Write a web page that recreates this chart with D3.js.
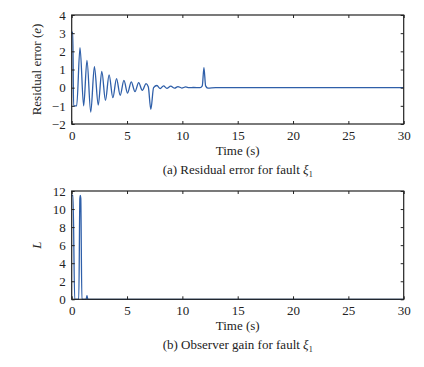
<!DOCTYPE html>
<html>
<head>
<meta charset="utf-8">
<script src="https://cdn.jsdelivr.net/npm/d3@7"></script>
<style>
  html, body { margin: 0; padding: 0; background: #fff; }
  svg text { font-family: "Liberation Serif", "Times New Roman", Times, serif; fill: #222; }
</style>
</head>
<body>
<svg id="chart" width="424" height="367" font-family="Liberation Serif"></svg>
<script>
// ---- data ----
const residualTime = [0, 0.1, 0.17, 0.45, 0.75, 1.08, 1.38, 1.72, 2.05, 2.4, 2.72, 3.05, 3.38, 3.72, 4.05, 4.38, 4.72, 5.05, 5.38, 5.72, 6.05, 6.38, 6.72, 6.92, 7.15, 7.4, 7.7, 8.0, 8.3, 8.6, 8.95, 9.3, 9.6, 9.95, 10.3, 10.6, 11.0, 11.6, 11.8, 11.95, 12.1, 12.3, 13, 30];
const residualValue = [3.0, 3.05, -1.0, -1.0, 2.2, -1.0, 1.5, -1.35, 1.15, -0.95, 0.9, -0.7, 0.7, -0.55, 0.5, -0.42, 0.4, -0.3, 0.32, -0.22, 0.28, -0.15, 0.22, 0.05, -1.2, 0.0, 0.12, -0.05, 0.1, -0.04, 0.08, -0.03, 0.06, -0.02, 0.04, 0, 0.01, 0, 0.1, 1.1, 0.1, -0.02, 0, 0];

const gainTime = [0, 0.12, 0.27, 0.5, 0.64, 0.74, 0.78, 0.82, 0.92, 1.05, 1.3, 1.38, 1.46, 30];
const gainValue = [11.5, 11.5, 0, 0, 0, 11.2, 11.5, 11.2, 0, 0, 0, 0.4, 0, 0];

const xTicks = [0, 5, 10, 15, 20, 25, 30];
const residualTicks = [-2, -1, 0, 1, 2, 3, 4];
const gainTicks = [0, 2, 4, 6, 8, 10, 12];

// ---- layout ----
const svg = d3.select("#chart");
const left = 71.7, right = 403.7;
const lineColor = "#2f5fa9";
const FONT = "'Liberation Serif', 'Times New Roman', serif";

function panel(opts) {
  const x = d3.scaleLinear().domain([0, 30]).range([left, right]);
  const y = d3.scaleLinear().domain(opts.yDomain).range([opts.bottom, opts.top]);
  const g = svg.append("g");
  const fmt = d3.format("d");

  // data line
  const data = opts.t.map((t, i) => [t, opts.v[i]]);
  g.append("path")
    .datum(data)
    .attr("fill", "none")
    .attr("stroke", lineColor)
    .attr("stroke-width", 1.3)
    .attr("d", d3.line().x(d => x(d[0])).y(d => y(d[1])).curve(d3.curveMonotoneX));

  // axes with inward ticks
  const ax = g.append("g").attr("transform", `translate(0,${opts.bottom})`)
    .call(d3.axisBottom(x).tickValues(xTicks).tickFormat(fmt).tickSizeInner(-3).tickSizeOuter(0).tickPadding(6));
  const axTop = g.append("g").attr("transform", `translate(0,${opts.top})`)
    .call(d3.axisTop(x).tickValues(xTicks).tickSizeInner(-3).tickSizeOuter(0).tickFormat(""));
  const ay = g.append("g").attr("transform", `translate(${left},0)`)
    .call(d3.axisLeft(y).tickValues(opts.yTicks).tickFormat(fmt).tickSizeInner(-3).tickSizeOuter(0).tickPadding(6));
  const ayR = g.append("g").attr("transform", `translate(${right},0)`)
    .call(d3.axisRight(y).tickValues(opts.yTicks).tickSizeInner(-3).tickSizeOuter(0).tickFormat(""));
  [ax, axTop, ay, ayR].forEach(a => {
    a.attr("font-family", null).attr("font-size", null);
    a.select(".domain").remove();
    a.selectAll("line").attr("stroke", "#222");
    a.selectAll("text").style("font-family", FONT).style("font-size", "13px").attr("fill", "#222");
  });
  ax.selectAll("text").attr("dy", null).attr("y", 6).attr("dominant-baseline", "hanging");

  // frame
  g.append("rect")
    .attr("x", left).attr("y", opts.top)
    .attr("width", right - left).attr("height", opts.bottom - opts.top)
    .attr("fill", "none").attr("stroke", "#222").attr("stroke-width", 1.2);

  // x label
  g.append("text").attr("x", (left + right) / 2).attr("y", opts.bottom + 31)
    .attr("text-anchor", "middle").style("font-size", "13px").style("font-family", FONT).text("Time (s)");

  // caption
  const cap = g.append("text").attr("x", (left + right) / 2).attr("y", opts.bottom + 50)
    .attr("text-anchor", "middle").style("font-size", "13px").style("font-family", FONT);
  cap.append("tspan").text(opts.caption + " ");
  cap.append("tspan").style("font-style", "italic").text("ξ");
  cap.append("tspan").attr("dy", 3).style("font-size", "8px").text("1");

  // y label
  const yl = g.append("text")
    .attr("transform", `translate(41,${(opts.top + opts.bottom) / 2}) rotate(-90)`)
    .attr("text-anchor", "middle").style("font-size", "13px").style("font-family", FONT);
  opts.yLabel(yl);
}

panel({
  top: 15, bottom: 124, yDomain: [-2, 4], yTicks: residualTicks,
  t: residualTime, v: residualValue,
  caption: "(a) Residual error for fault",
  yLabel: t => {
    t.append("tspan").text("Residual error (");
    t.append("tspan").style("font-style", "italic").text("e");
    t.append("tspan").text(")");
  }
});

panel({
  top: 191, bottom: 299.3, yDomain: [0, 12], yTicks: gainTicks,
  t: gainTime, v: gainValue,
  caption: "(b) Observer gain for fault",
  yLabel: t => {
    t.append("tspan").style("font-style", "italic").text("L");
  }
});
</script>
</body>
</html>
